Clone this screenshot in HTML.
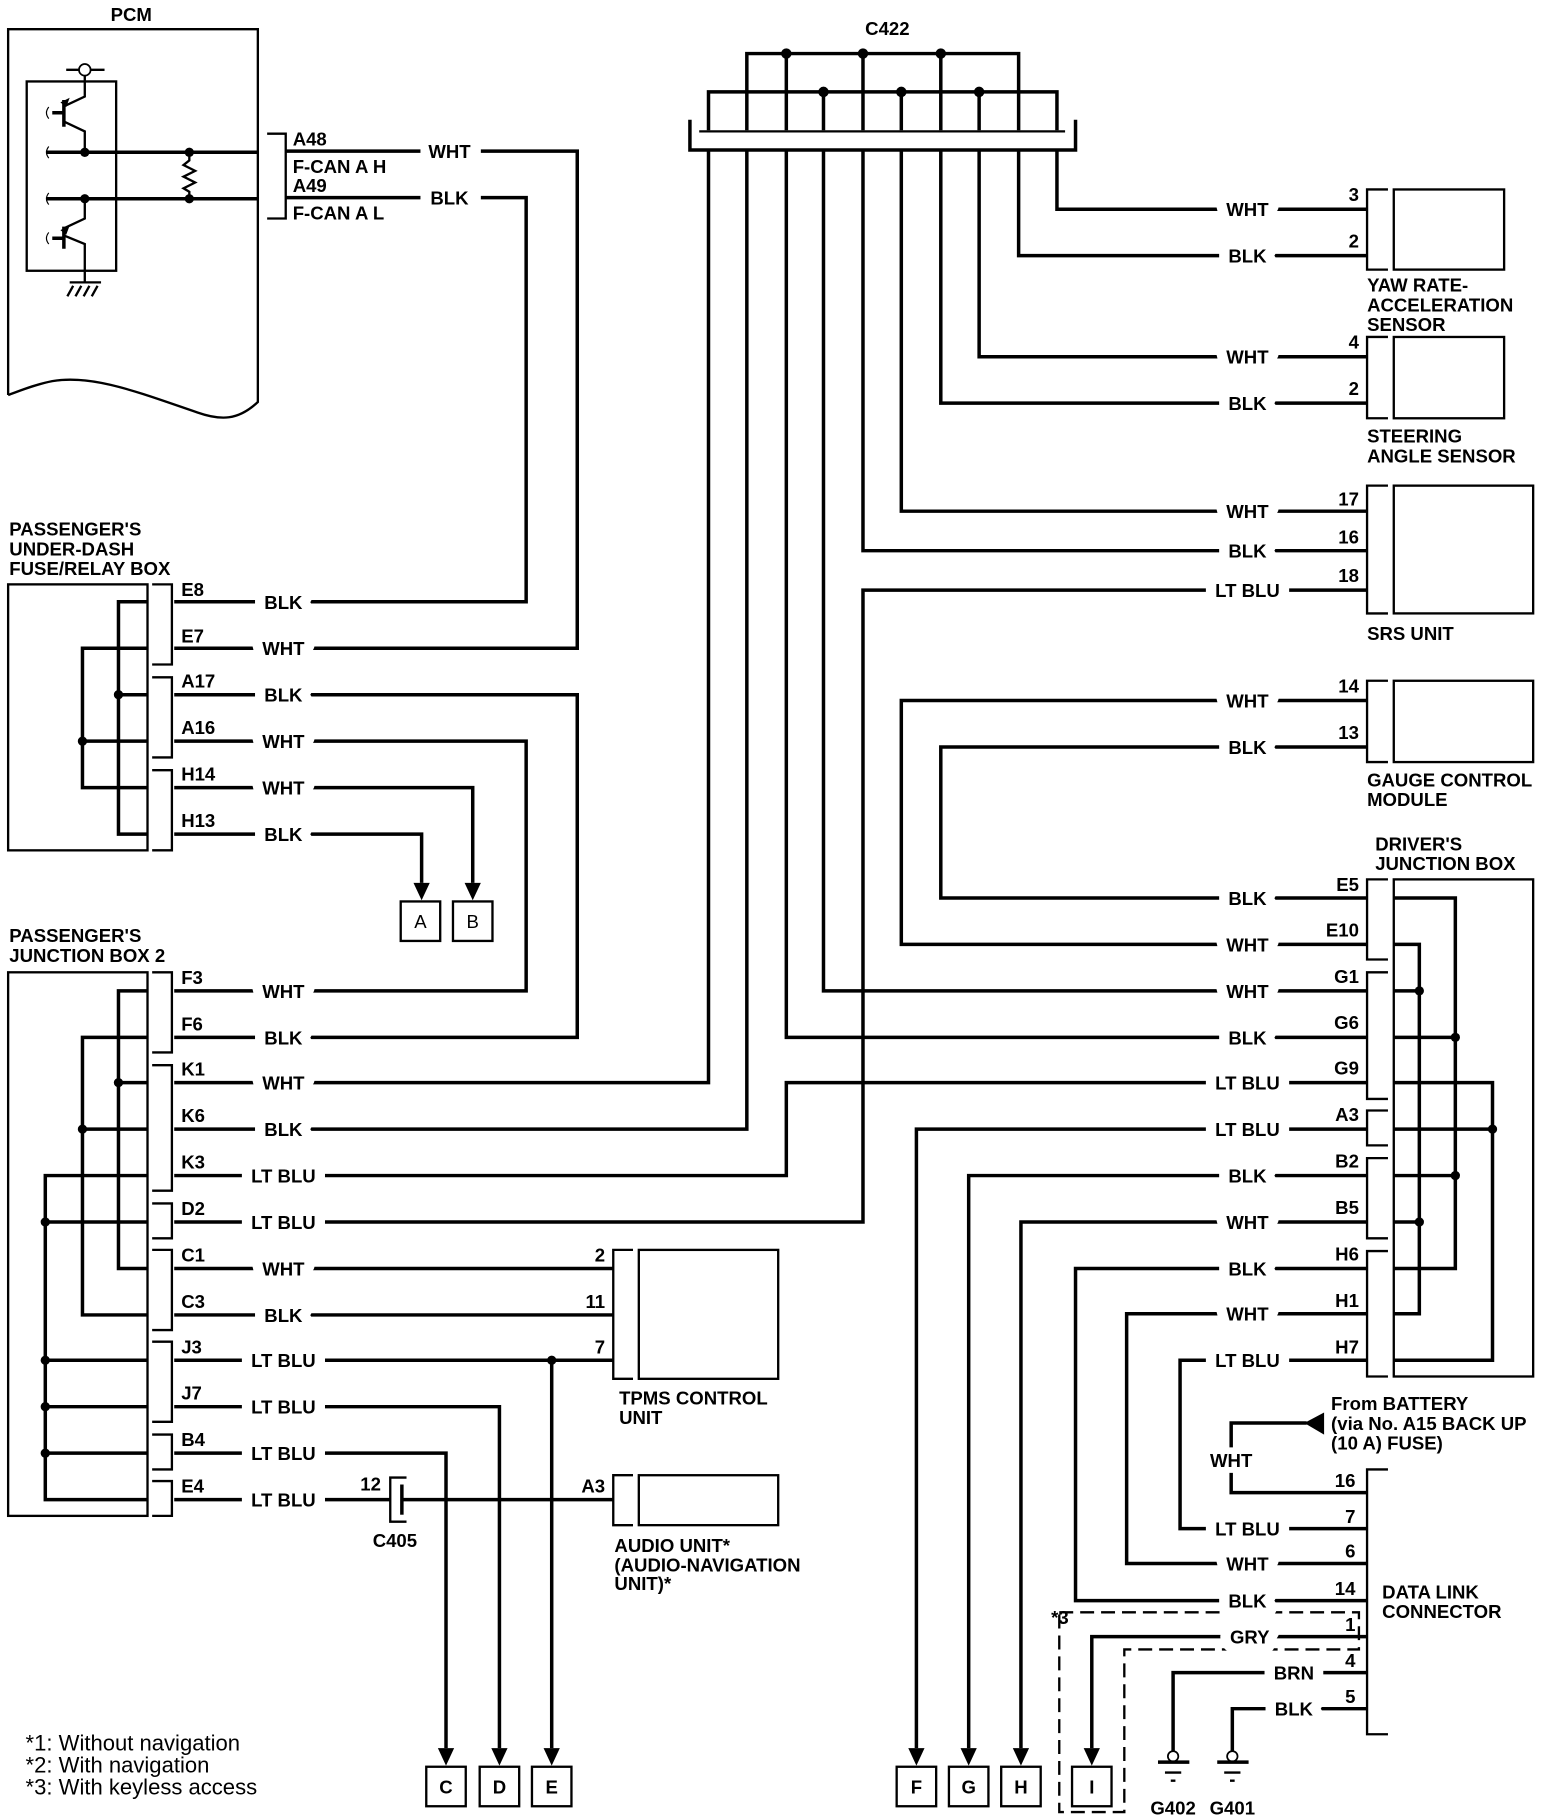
<!DOCTYPE html>
<html><head><meta charset="utf-8"><style>
html,body{margin:0;padding:0;background:#fff}
svg{display:block}
text{font-family:"Liberation Sans",Arial,sans-serif;font-size:16px;font-weight:bold;fill:#000}
.l{stroke:#fff;stroke-width:18px;paint-order:stroke;stroke-linejoin:round;text-anchor:middle}
.w{stroke:#000;stroke-width:3;fill:none}
.t{stroke:#000;stroke-width:2;fill:none}
.n{text-anchor:end}
.d{stroke:#000;stroke-width:2;fill:none;stroke-dasharray:12 6}
</style></head><body>
<svg width="1568" height="1818" viewBox="0 0 1350 1565" xmlns="http://www.w3.org/2000/svg">
<!-- PCM -->
<text x="113" y="18" text-anchor="middle">PCM</text>
<path class="t" d="M7,340 V25 H222 V346 C205,362 190,362 170,355 C120,338 80,322 45,328 C30,331 18,336 7,340"/>
<rect class="t" x="23" y="70" width="77" height="163"/>
<circle cx="73" cy="60" r="5" fill="#fff" stroke="#000" stroke-width="1.5"/>
<path class="t" d="M57,60 H68 M78,60 H90 M73,65 V83 L56,91 M73,131 V113 L56,105 M73,171 V188 L56,196 M73,233 V210 L56,203 M73,233 V243 M60,243 H87"/>
<path d="M52,88 L60,84 L57,92 Z M52,198 L60,194 L57,202 Z"/>
<path class="w" d="M55,86 V109 M45,97 H55 M55,195 V214 M45,205 H55"/>
<path class="t" d="M65,255 L70,246 M72,255 L77,246 M79,255 L84,246 M58,255 L63,246"/>
<path d="M42,92 q-4,5 0,10 M42,126 q-4,5 0,10 M42,166 q-4,5 0,10 M42,200 q-4,5 0,10" stroke="#000" stroke-width="1" fill="none"/>
<path class="w" d="M40,131 H222 M40,171 H222"/>
<circle cx="73" cy="131" r="4"/><circle cx="73" cy="171" r="4"/><circle cx="163" cy="131" r="4"/><circle cx="163" cy="171" r="4"/>
<path class="t" d="M163,131 V138 L158,142 L168,147 L158,152 L168,157 L158,162 L163,165 V171"/>
<path class="t" d="M230,115 H246 V188 H230"/>
<text x="252" y="125">A48</text><text x="252" y="149">F-CAN A H</text>
<text x="252" y="165">A49</text><text x="252" y="189">F-CAN A L</text>
<path class="w" d="M246,130 H362 M414,130 H497 V558 H150 M246,170 H362 M414,170 H453 V518 H150"/>
<text x="387" y="136" text-anchor="middle">WHT</text><text x="387" y="176" text-anchor="middle">BLK</text>

<!-- C422 -->
<text x="764" y="30" text-anchor="middle">C422</text>
<path class="w" d="M643,112 V46 H877 V112 M610,112 V79 H910 V112 M677,46 V112 M743,46 V112 M810,46 V112 M709,79 V112 M776,79 V112 M843,79 V112"/>
<circle cx="677" cy="46" r="4.5"/><circle cx="743" cy="46" r="4.5"/><circle cx="810" cy="46" r="4.5"/>
<circle cx="709" cy="79" r="4.5"/><circle cx="776" cy="79" r="4.5"/><circle cx="843" cy="79" r="4.5"/>
<path class="t" d="M602,113 H917"/>
<path class="w" d="M594,103 V129 H926 V103"/>

<!-- C422 wires -->
<path class="w" d="M910,129 V180 H1177 M877,129 V220 H1177 M843,129 V307 H1177 M810,129 V347 H1177 M776,129 V440 H1177 M743,129 V474 H1177"/>
<path class="w" d="M709,129 V853 H1177 M677,129 V893 H1177 M643,129 V972 H150 M610,129 V932 H150"/>
<path class="w" d="M150,1052 H743 V508 H1177 M150,1012 H677 V932 H1177 M1177,603 H776 V813 H1177 M1177,643 H810 V773 H1177"/>

<!-- Yaw -->
<path class="t" d="M1195,163 H1177 V232 H1195"/><rect class="t" x="1200" y="163" width="95" height="69"/>
<text x="1170" y="173" class="n">3</text><text x="1170" y="213" class="n">2</text>
<text x="1177" y="251">YAW RATE-</text><text x="1177" y="268">ACCELERATION</text><text x="1177" y="285">SENSOR</text>
<path class="t" d="M1195,290 H1177 V360 H1195"/><rect class="t" x="1200" y="290" width="95" height="70"/>
<text x="1170" y="300" class="n">4</text><text x="1170" y="340" class="n">2</text>
<text x="1177" y="381">STEERING</text><text x="1177" y="398">ANGLE SENSOR</text>
<path class="t" d="M1195,418 H1177 V528 H1195"/><rect class="t" x="1200" y="418" width="120" height="110"/>
<text x="1170" y="435" class="n">17</text><text x="1170" y="468" class="n">16</text><text x="1170" y="501" class="n">18</text>
<text x="1177" y="551">SRS UNIT</text>
<path class="t" d="M1195,586 H1177 V656 H1195"/><rect class="t" x="1200" y="586" width="120" height="70"/>
<text x="1170" y="596" class="n">14</text><text x="1170" y="636" class="n">13</text>
<text x="1177" y="677">GAUGE CONTROL</text><text x="1177" y="694">MODULE</text>

<!-- Driver JB -->
<text x="1184" y="732">DRIVER'S</text><text x="1184" y="749">JUNCTION BOX</text>
<rect class="t" x="1200" y="757" width="120" height="428"/>
<path class="t" d="M1195,757 H1177 V826 H1195 M1195,837 H1177 V946 H1195 M1195,956 H1177 V986 H1195 M1195,997 H1177 V1066 H1195 M1195,1077 H1177 V1185 H1195"/>
<path class="w" d="M1200,773 H1253 V1092 H1200 M1200,813 H1222 V1131 H1200 M1200,853 H1222 M1200,893 H1253 M1200,932 H1285 V1171 H1200 M1200,972 H1285 M1200,1012 H1253 M1200,1052 H1222"/>
<circle cx="1222" cy="853" r="4"/><circle cx="1253" cy="893" r="4"/><circle cx="1285" cy="972" r="4"/><circle cx="1253" cy="1012" r="4"/><circle cx="1222" cy="1052" r="4"/>
<text x="1170" y="767" class="n">E5</text><text x="1170" y="806" class="n">E10</text><text x="1170" y="846" class="n">G1</text><text x="1170" y="886" class="n">G6</text><text x="1170" y="925" class="n">G9</text><text x="1170" y="965" class="n">A3</text><text x="1170" y="1005" class="n">B2</text><text x="1170" y="1045" class="n">B5</text><text x="1170" y="1085" class="n">H6</text><text x="1170" y="1125" class="n">H1</text><text x="1170" y="1165" class="n">H7</text>
<path class="w" d="M1177,972 H789 V1505 M1177,1012 H834 V1505 M1177,1052 H879 V1505 M1177,1092 H926 V1378 H1177 M1177,1131 H970 V1346 H1177 M1177,1171 H1016 V1316 H1177"/>

<!-- DLC -->
<path class="t" d="M1195,1265 H1177 V1493 H1195"/>
<text x="1190" y="1376">DATA LINK</text><text x="1190" y="1393">CONNECTOR</text>
<text x="1167" y="1280" class="n">16</text><text x="1167" y="1311" class="n">7</text><text x="1167" y="1341" class="n">6</text><text x="1167" y="1373" class="n">14</text><text x="1167" y="1404" class="n">1</text><text x="1167" y="1435" class="n">4</text><text x="1167" y="1466" class="n">5</text>
<path d="M1140,1216 V1235 L1123,1225 Z"/>
<path class="w" d="M1125,1225 H1060 V1246 M1060,1268 V1285 H1177"/>
<text x="1060" y="1263" text-anchor="middle">WHT</text>
<text x="1146" y="1214">From BATTERY</text><text x="1146" y="1231">(via No. A15 BACK UP</text><text x="1146" y="1248">(10 A) FUSE)</text>
<path class="w" d="M1177,1409 H940 V1505 M1177,1440 H1010 V1508 M1177,1471 H1061 V1508"/>
<path class="d" d="M912,1388 H1170 V1420 H968 V1560 H912 V1388"/>
<text x="905" y="1398">*3</text>
<circle cx="1010" cy="1512" r="4.5" fill="#fff" stroke="#000" stroke-width="1.5"/><circle cx="1061" cy="1512" r="4.5" fill="#fff" stroke="#000" stroke-width="1.5"/>
<path class="w" d="M997,1517 H1024 M1048,1517 H1075"/>
<path class="t" d="M1003,1526 H1017 M1008,1533 H1012 M1054,1526 H1068 M1059,1533 H1063"/>
<text x="1010" y="1562" text-anchor="middle">G402</text><text x="1061" y="1562" text-anchor="middle">G401</text>

<!-- Fuse box -->
<text x="8" y="461">PASSENGER'S</text><text x="8" y="478">UNDER-DASH</text><text x="8" y="495">FUSE/RELAY BOX</text>
<rect class="t" x="7" y="503" width="120" height="229"/>
<path class="t" d="M131,503 H148 V572 H131 M131,583 H148 V652 H131 M131,663 H148 V732 H131"/>
<path class="w" d="M127,518 H102 V718 H127 M127,598 H102 M127,558 H71 V678 H127 M127,638 H71"/>
<circle cx="102" cy="598" r="4"/><circle cx="71" cy="638" r="4"/>
<text x="156" y="513">E8</text><text x="156" y="553">E7</text><text x="156" y="592">A17</text><text x="156" y="632">A16</text><text x="156" y="672">H14</text><text x="156" y="712">H13</text>
<path class="w" d="M150,598 H497 V893 H150 M150,638 H453 V853 H150 M150,678 H407 V760 M150,718 H363 V760"/>
<path d="M356,760 H370 L363,775 Z M400,760 H414 L407,775 Z"/>
<rect class="t" x="345" y="776" width="34" height="34"/><rect class="t" x="390" y="776" width="34" height="34"/>
<text x="362" y="799" text-anchor="middle" style="font-weight:normal">A</text><text x="407" y="799" text-anchor="middle" style="font-weight:normal">B</text>

<!-- JB2 -->
<text x="8" y="811">PASSENGER'S</text><text x="8" y="828">JUNCTION BOX 2</text>
<rect class="t" x="7" y="837" width="120" height="468"/>
<path class="t" d="M131,837 H148 V906 H131 M131,917 H148 V1025 H131 M131,1036 H148 V1066 H131 M131,1076 H148 V1145 H131 M131,1155 H148 V1224 H131 M131,1235 H148 V1265 H131 M131,1275 H148 V1305 H131"/>
<path class="w" d="M127,853 H102 V1092 H127 M127,932 H102 M127,893 H71 V1132 H127 M127,972 H71 M127,1012 H39 V1291 H127 M127,1052 H39 M127,1171 H39 M127,1211 H39 M127,1251 H39"/>
<circle cx="102" cy="932" r="4"/><circle cx="71" cy="972" r="4"/><circle cx="39" cy="1052" r="4"/><circle cx="39" cy="1171" r="4"/><circle cx="39" cy="1211" r="4"/><circle cx="39" cy="1251" r="4"/>
<text x="156" y="847">F3</text><text x="156" y="887">F6</text><text x="156" y="926">K1</text><text x="156" y="966">K6</text><text x="156" y="1006">K3</text><text x="156" y="1046">D2</text><text x="156" y="1086">C1</text><text x="156" y="1126">C3</text><text x="156" y="1165">J3</text><text x="156" y="1205">J7</text><text x="156" y="1245">B4</text><text x="156" y="1285">E4</text>
<path class="w" d="M150,1092 H528 M150,1132 H528 M150,1171 H528 M475,1171 V1505 M150,1211 H430 V1505 M150,1251 H384 V1505 M150,1291 H336 M346,1291 H528"/>
<circle cx="475" cy="1171" r="4"/>
<path class="t" d="M350,1272 H336 V1310 H350"/><path class="w" d="M346,1278 V1304"/>
<text x="328" y="1283" class="n">12</text><text x="340" y="1332" text-anchor="middle">C405</text>
<path class="t" d="M545,1076 H528 V1187 H545"/><rect class="t" x="550" y="1076" width="120" height="111"/>
<text x="521" y="1086" class="n">2</text><text x="521" y="1126" class="n">11</text><text x="521" y="1165" class="n">7</text>
<text x="533" y="1209">TPMS CONTROL</text><text x="533" y="1226">UNIT</text>
<path class="t" d="M545,1270 H528 V1313 H545"/><rect class="t" x="550" y="1270" width="120" height="43"/>
<text x="521" y="1285" class="n">A3</text>
<text x="529" y="1336">AUDIO UNIT*</text><text x="529" y="1353">(AUDIO-NAVIGATION</text><text x="529" y="1369">UNIT)*</text>

<!-- bottom arrows/boxes -->
<path d="M377,1505 H391 L384,1520 Z M423,1505 H437 L430,1520 Z M468,1505 H482 L475,1520 Z M782,1505 H796 L789,1520 Z M827,1505 H841 L834,1520 Z M872,1505 H886 L879,1520 Z M933,1505 H947 L940,1520 Z"/>
<g class="t"><rect x="367" y="1521" width="34" height="34"/><rect x="413" y="1521" width="34" height="34"/><rect x="458" y="1521" width="34" height="34"/><rect x="772" y="1521" width="34" height="34"/><rect x="817" y="1521" width="34" height="34"/><rect x="862" y="1521" width="34" height="34"/><rect x="923" y="1521" width="34" height="34"/></g>
<g style="font-weight:normal"><text x="384" y="1544" text-anchor="middle">C</text><text x="430" y="1544" text-anchor="middle">D</text><text x="475" y="1544" text-anchor="middle">E</text><text x="789" y="1544" text-anchor="middle">F</text><text x="834" y="1544" text-anchor="middle">G</text><text x="879" y="1544" text-anchor="middle">H</text><text x="940" y="1544" text-anchor="middle">I</text></g>

<!-- notes -->
<text x="22" y="1507" style="font-size:19px;font-weight:normal">*1: Without navigation</text><text x="22" y="1526" style="font-size:19px;font-weight:normal">*2: With navigation</text><text x="22" y="1545" style="font-size:19px;font-weight:normal">*3: With keyless access</text>

<!-- wire labels -->
<text class="l" x="244" y="524">BLK</text><text class="l" x="244" y="564">WHT</text><text class="l" x="244" y="604">BLK</text><text class="l" x="244" y="644">WHT</text><text class="l" x="244" y="684">WHT</text><text class="l" x="244" y="724">BLK</text>
<text class="l" x="244" y="859">WHT</text><text class="l" x="244" y="899">BLK</text><text class="l" x="244" y="938">WHT</text><text class="l" x="244" y="978">BLK</text><text class="l" x="244" y="1018">LT BLU</text><text class="l" x="244" y="1058">LT BLU</text><text class="l" x="244" y="1098">WHT</text><text class="l" x="244" y="1138">BLK</text><text class="l" x="244" y="1177">LT BLU</text><text class="l" x="244" y="1217">LT BLU</text><text class="l" x="244" y="1257">LT BLU</text><text class="l" x="244" y="1297">LT BLU</text>
<text class="l" x="1074" y="186">WHT</text><text class="l" x="1074" y="226">BLK</text><text class="l" x="1074" y="313">WHT</text><text class="l" x="1074" y="353">BLK</text><text class="l" x="1074" y="446">WHT</text><text class="l" x="1074" y="480">BLK</text><text class="l" x="1074" y="514">LT BLU</text><text class="l" x="1074" y="609">WHT</text><text class="l" x="1074" y="649">BLK</text>
<text class="l" x="1074" y="779">BLK</text><text class="l" x="1074" y="819">WHT</text><text class="l" x="1074" y="859">WHT</text><text class="l" x="1074" y="899">BLK</text><text class="l" x="1074" y="938">LT BLU</text><text class="l" x="1074" y="978">LT BLU</text><text class="l" x="1074" y="1018">BLK</text><text class="l" x="1074" y="1058">WHT</text><text class="l" x="1074" y="1098">BLK</text><text class="l" x="1074" y="1137">WHT</text><text class="l" x="1074" y="1177">LT BLU</text>
<text class="l" x="1074" y="1322">LT BLU</text><text class="l" x="1074" y="1352">WHT</text><text class="l" x="1074" y="1384">BLK</text><text class="l" x="1076" y="1415">GRY</text><text class="l" x="1114" y="1446">BRN</text><text class="l" x="1114" y="1477">BLK</text>
</svg>
</body></html>
